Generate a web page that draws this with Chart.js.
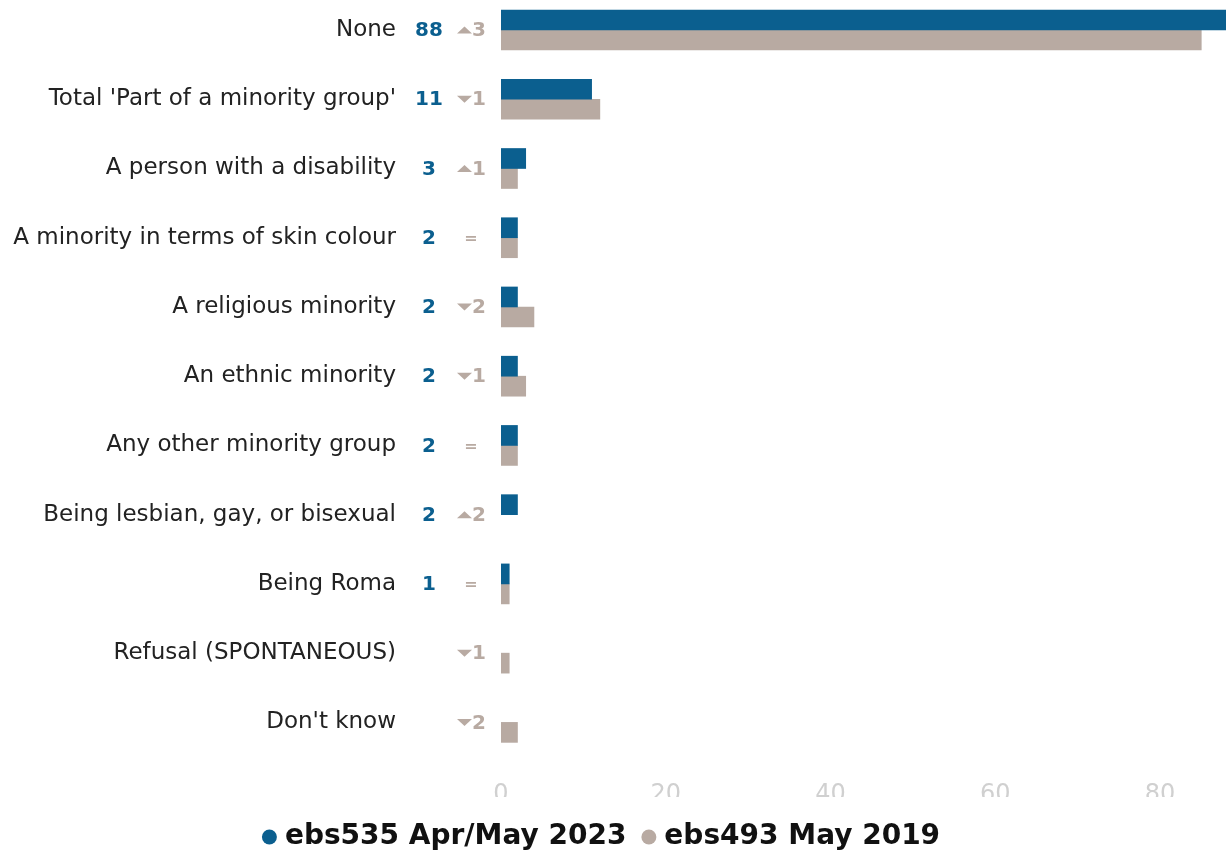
<!DOCTYPE html>
<html>
<head>
<meta charset="utf-8">
<title>Minority groups</title>
<script src="https://cdn.jsdelivr.net/npm/chart.js@4"></script>
<style>
  html, body { margin: 0; padding: 0; background: #fff; }
  #wrap { width: 1226px; height: 856px; position: relative; }
</style>
</head>
<body>
<div id="wrap"><canvas id="minorityChart"></canvas></div>
<script>
// Chart data
const categories = [
    'None',
    "Total 'Part of a minority group'",
    'A person with a disability',
    'A minority in terms of skin colour',
    'A religious minority',
    'An ethnic minority',
    'Any other minority group',
    'Being lesbian, gay, or bisexual',
    'Being Roma',
    'Refusal (SPONTANEOUS)',
    "Don't know"
];
const values2023 = [88, 11, 3, 2, 2, 2, 2, 2, 1, null, null];
const values2019 = [85, 12, 2, 2, 4, 3, 2, null, 1, 1, 2];
const changes = [3, -1, 1, 0, -2, -1, 0, 2, 0, -1, -2];
const xTicks = [0, 20, 40, 60, 80];
const seriesNames = ['ebs535 Apr/May 2023', 'ebs493 May 2019'];

const BLUE = '#0b5f8f';
const GREY = '#b8aaa2';
const FONT = '"DejaVu Sans"';

// Draws the 2023 value and the change marker left of the bars
const sideLabels = {
    id: 'sideLabels',
    afterDatasetsDraw(chart) {
        const { ctx, chartArea, scales: { y } } = chart;
        const left = chartArea.left;
        ctx.save();
        ctx.textBaseline = 'middle';
        categories.forEach((cat, i) => {
            const cy = y.getPixelForValue(i);
            if (values2023[i] !== null) {
                ctx.fillStyle = BLUE;
                ctx.font = 'bold 20px ' + FONT;
                ctx.textAlign = 'center';
                ctx.fillText(String(values2023[i]), left - 72, cy + 1);
            }
            const d = changes[i];
            ctx.fillStyle = GREY;
            if (d === 0) {
                ctx.font = 'bold 16px ' + FONT;
                ctx.textAlign = 'center';
                ctx.fillText('=', left - 30, cy + 1);
            } else {
                ctx.beginPath();
                if (d > 0) {
                    ctx.moveTo(left - 44, cy + 3.5);
                    ctx.lineTo(left - 29, cy + 3.5);
                    ctx.lineTo(left - 36.5, cy - 3.5);
                } else {
                    ctx.moveTo(left - 44, cy - 3.5);
                    ctx.lineTo(left - 29, cy - 3.5);
                    ctx.lineTo(left - 36.5, cy + 3.5);
                }
                ctx.closePath();
                ctx.fill();
                ctx.font = 'bold 20px ' + FONT;
                ctx.textAlign = 'left';
                ctx.fillText(String(Math.abs(d)), left - 29, cy + 1);
            }
        });
        ctx.restore();
    }
};

// Small layout nudges: rows start slightly above the canvas, legend sits lower and a bit left
const layoutTweak = {
    id: 'layoutTweak',
    afterLayout(chart) {
        const y = chart.scales.y;
        y.top -= 4.6;
        y.height = y.bottom - y.top;
        y.configure();
        const lg = chart.legend;
        lg.top += 5;
        lg.bottom += 5;
        lg.left -= 9;
        lg.right -= 9;
    }
};

const ctx = document.getElementById('minorityChart');

new Chart(ctx, {
    type: 'bar',
    data: {
        labels: categories,
        datasets: [
            {
                label: seriesNames[0],
                data: values2023,
                backgroundColor: BLUE,
                borderWidth: 0,
                barThickness: 20
            },
            {
                label: seriesNames[1],
                data: values2019,
                backgroundColor: GREY,
                borderWidth: 0,
                barThickness: 20
            }
        ]
    },
    options: {
        indexAxis: 'y',
        responsive: true,
        maintainAspectRatio: false,
        animation: false,
        layout: {
            padding: 0
        },
        plugins: {
            tooltip: { enabled: false },
            legend: {
                position: 'bottom',
                labels: {
                    usePointStyle: true,
                    pointStyle: 'circle',
                    boxWidth: 3,
                    boxHeight: 10.6,
                    padding: 21,
                    color: '#111',
                    font: { family: FONT, size: 28, weight: 'bold' }
                }
            }
        },
        scales: {
            x: {
                min: 0,
                max: 88,
                grid: { display: false, drawTicks: false },
                border: { display: false },
                afterBuildTicks: scale => {
                    scale.ticks = xTicks.map(v => ({ value: v }));
                },
                afterFit: scale => {
                    scale.height = 40;
                },
                ticks: {
                    color: '#d0d0d0',
                    padding: 23,
                    font: { family: FONT, size: 24 }
                }
            },
            y: {
                grid: { display: false, drawTicks: false },
                border: { display: false },
                afterFit: scale => {
                    // the big label padding should not eat vertical room
                    scale.width = 501;
                    scale.paddingTop = 0;
                    scale.paddingBottom = 0;
                },
                ticks: {
                    color: '#222',
                    padding: 105,
                    font: { family: FONT, size: 23 }
                }
            }
        }
    },
    plugins: [sideLabels, layoutTweak]
});
</script>
</body>
</html>
